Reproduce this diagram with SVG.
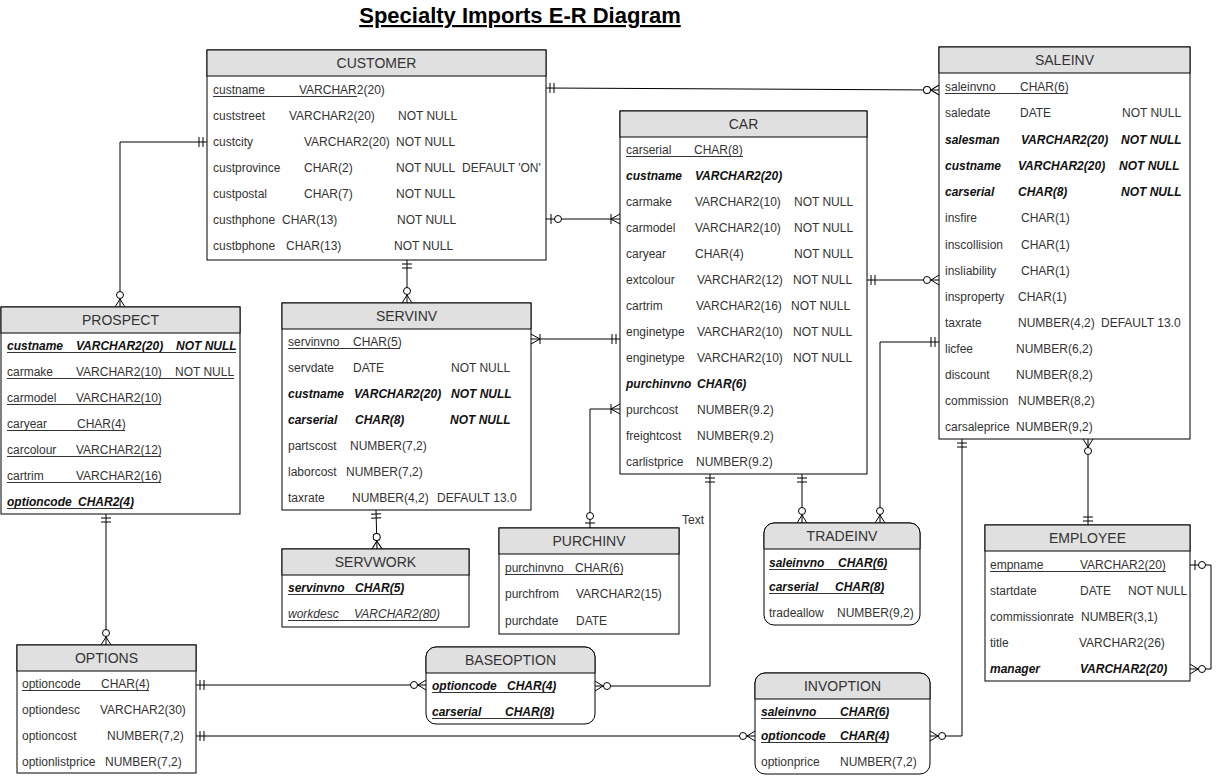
<svg xmlns="http://www.w3.org/2000/svg" width="1221" height="778" viewBox="0 0 1221 778">
<style>
.t{font-family:"Liberation Sans",Arial,sans-serif;font-size:12px;fill:#333}
.h{font-family:"Liberation Sans",Arial,sans-serif;font-size:14px;fill:#333;text-anchor:middle}
.bi{font-weight:bold;font-style:italic;fill:#111}
.i{font-style:italic}
.box{fill:#fff;stroke:#000;stroke-width:1}
.hd{fill:#e0e0e0;stroke:#000;stroke-width:1}
.ul{stroke:#333;stroke-width:1}
.c{fill:none;stroke:#000;stroke-width:1}
.title{font-family:"Liberation Sans",Arial,sans-serif;font-size:22px;font-weight:bold;fill:#000;text-anchor:middle;text-decoration:underline}
</style>
<defs>
<marker id="mOne" viewBox="-20 -10 22 20" refX="0" refY="0" markerWidth="22" markerHeight="20" markerUnits="userSpaceOnUse" orient="auto-start-reverse">
<path d="M-4,-5V5M-8,-5V5" fill="none" stroke="#000"/>
</marker>
<marker id="zOne" viewBox="-20 -10 22 20" refX="0" refY="0" markerWidth="22" markerHeight="20" markerUnits="userSpaceOnUse" orient="auto-start-reverse">
<path d="M-5,-5V5" fill="none" stroke="#000"/>
<circle cx="-12" cy="0" r="3.5" fill="#fff" stroke="#000"/>
</marker>
<marker id="oMany" viewBox="-20 -10 22 20" refX="0" refY="0" markerWidth="22" markerHeight="20" markerUnits="userSpaceOnUse" orient="auto-start-reverse">
<path d="M-9,-5V5M-9,0L0,-5M-9,0L0,5" fill="none" stroke="#000"/>
</marker>
<marker id="zMany" viewBox="-20 -10 22 20" refX="0" refY="0" markerWidth="22" markerHeight="20" markerUnits="userSpaceOnUse" orient="auto-start-reverse">
<path d="M-8,0L0,-5M-8,0L0,5" fill="none" stroke="#000"/>
<circle cx="-12" cy="0" r="3.5" fill="#fff" stroke="#000"/>
</marker>
</defs>
<rect width="1221" height="778" fill="#fff"/>
<text class="title" x="520" y="23">Specialty Imports E-R Diagram</text>

<g id="connectors">
<path class="c" d="M546,88 L939,90" marker-start="url(#mOne)" marker-end="url(#zMany)"/>
<path class="c" d="M207,142 H120 V307" marker-start="url(#mOne)" marker-end="url(#zMany)"/>
<path class="c" d="M546,219 H620" marker-start="url(#zOne)" marker-end="url(#oMany)"/>
<path class="c" d="M407,260 V303" marker-start="url(#mOne)" marker-end="url(#zMany)"/>
<path class="c" d="M531,339 H620" marker-start="url(#oMany)" marker-end="url(#mOne)"/>
<path class="c" d="M620,409 H590 V528" marker-start="url(#oMany)" marker-end="url(#zOne)"/>
<path class="c" d="M376,510 L377,549" marker-start="url(#mOne)" marker-end="url(#zMany)"/>
<path class="c" d="M710,474 V686 H595" marker-start="url(#mOne)" marker-end="url(#zMany)"/>
<path class="c" d="M802,474 V523" marker-start="url(#mOne)" marker-end="url(#zMany)"/>
<path class="c" d="M939,342 H880 V523" marker-start="url(#mOne)" marker-end="url(#zMany)"/>
<path class="c" d="M867,280 H939" marker-start="url(#mOne)" marker-end="url(#zMany)"/>
<path class="c" d="M962,439 V736 H930" marker-start="url(#mOne)" marker-end="url(#zMany)"/>
<path class="c" d="M1088,439 V525" marker-start="url(#zMany)" marker-end="url(#mOne)"/>
<path class="c" d="M1190,565 H1211 V669 H1190" marker-start="url(#zOne)" marker-end="url(#zMany)"/>
<path class="c" d="M106,514 V645" marker-start="url(#mOne)" marker-end="url(#zMany)"/>
<path class="c" d="M196,685 H426" marker-start="url(#mOne)" marker-end="url(#zMany)"/>
<path class="c" d="M196,736 H755" marker-start="url(#mOne)" marker-end="url(#zMany)"/>
</g>
<text class="t" x="682" y="524">Text</text>

<g id="customer">
<rect class="box" x="207" y="50" width="339" height="210"/>
<rect class="hd" x="207" y="50" width="339" height="26"/>
<text class="h" x="376.5" y="68">CUSTOMER</text>
<text class="t" y="94"><tspan x="213">custname</tspan><tspan x="299">VARCHAR2(20)</tspan></text>
<line class="ul" x1="213" y1="96.5" x2="357" y2="96.5"/>
<text class="t" y="120"><tspan x="213">custstreet</tspan><tspan x="289">VARCHAR2(20)</tspan><tspan x="398">NOT NULL</tspan></text>
<text class="t" y="146"><tspan x="213">custcity</tspan><tspan x="304">VARCHAR2(20)</tspan><tspan x="396">NOT NULL</tspan></text>
<text class="t" y="172"><tspan x="213">custprovince</tspan><tspan x="304">CHAR(2)</tspan><tspan x="396">NOT NULL</tspan><tspan x="462">DEFAULT 'ON'</tspan></text>
<text class="t" y="198"><tspan x="213">custpostal</tspan><tspan x="304">CHAR(7)</tspan><tspan x="396">NOT NULL</tspan></text>
<text class="t" y="224"><tspan x="213">custhphone</tspan><tspan x="282">CHAR(13)</tspan><tspan x="397">NOT NULL</tspan></text>
<text class="t" y="250"><tspan x="213">custbphone</tspan><tspan x="286">CHAR(13)</tspan><tspan x="394">NOT NULL</tspan></text>
</g>

<g id="saleinv">
<rect class="box" x="939" y="47" width="251" height="392"/>
<rect class="hd" x="939" y="47" width="251" height="26"/>
<text class="h" x="1064.5" y="65">SALEINV</text>
<text class="t" y="91"><tspan x="945">saleinvno</tspan><tspan x="1020">CHAR(6)</tspan></text>
<line class="ul" x1="945" y1="93.5" x2="1068" y2="93.5"/>
<text class="t" y="117"><tspan x="945">saledate</tspan><tspan x="1020">DATE</tspan><tspan x="1122">NOT NULL</tspan></text>
<text class="t bi" y="144"><tspan x="945">salesman</tspan><tspan x="1021">VARCHAR2(20)</tspan><tspan x="1121">NOT NULL</tspan></text>
<text class="t bi" y="170"><tspan x="945">custname</tspan><tspan x="1018">VARCHAR2(20)</tspan><tspan x="1119">NOT NULL</tspan></text>
<text class="t bi" y="196"><tspan x="945">carserial</tspan><tspan x="1018">CHAR(8)</tspan><tspan x="1121">NOT NULL</tspan></text>
<text class="t" y="222"><tspan x="945">insfire</tspan><tspan x="1021">CHAR(1)</tspan></text>
<text class="t" y="249"><tspan x="945">inscollision</tspan><tspan x="1021">CHAR(1)</tspan></text>
<text class="t" y="275"><tspan x="945">insliability</tspan><tspan x="1021">CHAR(1)</tspan></text>
<text class="t" y="301"><tspan x="945">insproperty</tspan><tspan x="1018">CHAR(1)</tspan></text>
<text class="t" y="327"><tspan x="945">taxrate</tspan><tspan x="1018">NUMBER(4,2)</tspan><tspan x="1101">DEFAULT 13.0</tspan></text>
<text class="t" y="353"><tspan x="945">licfee</tspan><tspan x="1016">NUMBER(6,2)</tspan></text>
<text class="t" y="379"><tspan x="945">discount</tspan><tspan x="1016">NUMBER(8,2)</tspan></text>
<text class="t" y="405"><tspan x="945">commission</tspan><tspan x="1018">NUMBER(8,2)</tspan></text>
<text class="t" y="431"><tspan x="945">carsaleprice</tspan><tspan x="1016">NUMBER(9,2)</tspan></text>
</g>

<g id="car">
<rect class="box" x="620" y="111" width="247" height="363"/>
<rect class="hd" x="620" y="111" width="247" height="26"/>
<text class="h" x="743.5" y="129">CAR</text>
<text class="t" y="154"><tspan x="626">carserial</tspan><tspan x="694">CHAR(8)</tspan></text>
<line class="ul" x1="626" y1="156.5" x2="743" y2="156.5"/>
<text class="t bi" y="180"><tspan x="626">custname</tspan><tspan x="695">VARCHAR2(20)</tspan></text>
<text class="t" y="206"><tspan x="626">carmake</tspan><tspan x="695">VARCHAR2(10)</tspan><tspan x="794">NOT NULL</tspan></text>
<text class="t" y="232"><tspan x="626">carmodel</tspan><tspan x="695">VARCHAR2(10)</tspan><tspan x="794">NOT NULL</tspan></text>
<text class="t" y="258"><tspan x="626">caryear</tspan><tspan x="695">CHAR(4)</tspan><tspan x="794">NOT NULL</tspan></text>
<text class="t" y="284"><tspan x="626">extcolour</tspan><tspan x="697">VARCHAR2(12)</tspan><tspan x="793">NOT NULL</tspan></text>
<text class="t" y="310"><tspan x="626">cartrim</tspan><tspan x="696">VARCHAR2(16)</tspan><tspan x="791">NOT NULL</tspan></text>
<text class="t" y="336"><tspan x="626">enginetype</tspan><tspan x="697">VARCHAR2(10)</tspan><tspan x="793">NOT NULL</tspan></text>
<text class="t" y="362"><tspan x="626">enginetype</tspan><tspan x="697">VARCHAR2(10)</tspan><tspan x="793">NOT NULL</tspan></text>
<text class="t bi" y="388"><tspan x="626">purchinvno</tspan><tspan x="697">CHAR(6)</tspan></text>
<text class="t" y="414"><tspan x="626">purchcost</tspan><tspan x="697">NUMBER(9.2)</tspan></text>
<text class="t" y="440"><tspan x="626">freightcost</tspan><tspan x="697">NUMBER(9.2)</tspan></text>
<text class="t" y="466"><tspan x="626">carlistprice</tspan><tspan x="696">NUMBER(9.2)</tspan></text>
</g>

<g id="prospect">
<rect class="box" x="1" y="307" width="239" height="207"/>
<rect class="hd" x="1" y="307" width="239" height="26"/>
<text class="h" x="120.5" y="325">PROSPECT</text>
<text class="t bi" y="350"><tspan x="7">custname</tspan><tspan x="76">VARCHAR2(20)</tspan><tspan x="176">NOT NULL</tspan></text>
<line class="ul" x1="7" y1="352.5" x2="236" y2="352.5"/>
<text class="t" y="376"><tspan x="7">carmake</tspan><tspan x="76">VARCHAR2(10)</tspan><tspan x="175">NOT NULL</tspan></text>
<line class="ul" x1="7" y1="378.5" x2="234" y2="378.5"/>
<text class="t" y="402"><tspan x="7">carmodel</tspan><tspan x="76">VARCHAR2(10)</tspan></text>
<line class="ul" x1="7" y1="404.5" x2="161" y2="404.5"/>
<text class="t" y="428"><tspan x="7">caryear</tspan><tspan x="77">CHAR(4)</tspan></text>
<line class="ul" x1="7" y1="430.5" x2="125" y2="430.5"/>
<text class="t" y="454"><tspan x="7">carcolour</tspan><tspan x="76">VARCHAR2(12)</tspan></text>
<line class="ul" x1="7" y1="456.5" x2="161" y2="456.5"/>
<text class="t" y="480"><tspan x="7">cartrim</tspan><tspan x="76">VARCHAR2(16)</tspan></text>
<line class="ul" x1="7" y1="482.5" x2="161" y2="482.5"/>
<text class="t bi" y="506"><tspan x="7">optioncode</tspan><tspan x="78">CHAR2(4)</tspan></text>
<line class="ul" x1="7" y1="508.5" x2="133" y2="508.5"/>
</g>

<g id="servinv">
<rect class="box" x="282" y="303" width="249" height="207"/>
<rect class="hd" x="282" y="303" width="249" height="26"/>
<text class="h" x="406.5" y="321">SERVINV</text>
<text class="t" y="346"><tspan x="288">servinvno</tspan><tspan x="353">CHAR(5)</tspan></text>
<line class="ul" x1="288" y1="348.5" x2="400" y2="348.5"/>
<text class="t" y="372"><tspan x="288">servdate</tspan><tspan x="353">DATE</tspan><tspan x="451">NOT NULL</tspan></text>
<text class="t bi" y="398"><tspan x="288">custname</tspan><tspan x="354">VARCHAR2(20)</tspan><tspan x="451">NOT NULL</tspan></text>
<text class="t bi" y="424"><tspan x="288">carserial</tspan><tspan x="355">CHAR(8)</tspan><tspan x="450">NOT NULL</tspan></text>
<text class="t" y="450"><tspan x="288">partscost</tspan><tspan x="350">NUMBER(7,2)</tspan></text>
<text class="t" y="476"><tspan x="288">laborcost</tspan><tspan x="346">NUMBER(7,2)</tspan></text>
<text class="t" y="502"><tspan x="288">taxrate</tspan><tspan x="352">NUMBER(4,2)</tspan><tspan x="437">DEFAULT 13.0</tspan></text>
</g>

<g id="servwork">
<rect class="box" x="282" y="549" width="187" height="78"/>
<rect class="hd" x="282" y="549" width="187" height="26"/>
<text class="h" x="375.5" y="567">SERVWORK</text>
<text class="t bi" y="592"><tspan x="288">servinvno</tspan><tspan x="355">CHAR(5)</tspan></text>
<line class="ul" x1="288" y1="594.5" x2="403" y2="594.5"/>
<text class="t i" y="618"><tspan x="288">workdesc</tspan><tspan x="354">VARCHAR2(80)</tspan></text>
<line class="ul" x1="288" y1="620.5" x2="437" y2="620.5"/>
</g>

<g id="purchinv">
<rect class="box" x="499" y="528" width="180" height="106"/>
<rect class="hd" x="499" y="528" width="180" height="26"/>
<text class="h" x="589" y="546">PURCHINV</text>
<text class="t" y="572"><tspan x="505">purchinvno</tspan><tspan x="575">CHAR(6)</tspan></text>
<line class="ul" x1="505" y1="574.5" x2="623" y2="574.5"/>
<text class="t" y="598"><tspan x="505">purchfrom</tspan><tspan x="576">VARCHAR2(15)</tspan></text>
<text class="t" y="625"><tspan x="505">purchdate</tspan><tspan x="576">DATE</tspan></text>
</g>

<g id="tradeinv">
<rect class="box" x="764" y="523" width="156" height="102" rx="10"/>
<path class="hd" d="M764,549 V533 A10,10 0 0 1 774,523 H910 A10,10 0 0 1 920,533 V549 Z"/>
<text class="h" x="842" y="541">TRADEINV</text>
<text class="t bi" y="567"><tspan x="769">saleinvno</tspan><tspan x="838">CHAR(6)</tspan></text>
<line class="ul" x1="769" y1="569.5" x2="887" y2="569.5"/>
<text class="t bi" y="591"><tspan x="769">carserial</tspan><tspan x="835">CHAR(8)</tspan></text>
<line class="ul" x1="769" y1="593.5" x2="884" y2="593.5"/>
<text class="t" y="617"><tspan x="769">tradeallow</tspan><tspan x="837">NUMBER(9,2)</tspan></text>
</g>

<g id="employee">
<rect class="box" x="985" y="525" width="205" height="156"/>
<rect class="hd" x="985" y="525" width="205" height="26"/>
<text class="h" x="1087.5" y="543">EMPLOYEE</text>
<text class="t" y="569"><tspan x="990">empname</tspan><tspan x="1080">VARCHAR2(20)</tspan></text>
<line class="ul" x1="990" y1="571.5" x2="1166" y2="571.5"/>
<text class="t" y="595"><tspan x="990">startdate</tspan><tspan x="1080">DATE</tspan><tspan x="1128">NOT NULL</tspan></text>
<text class="t" y="621"><tspan x="990">commissionrate</tspan><tspan x="1081">NUMBER(3,1)</tspan></text>
<text class="t" y="647"><tspan x="990">title</tspan><tspan x="1079">VARCHAR2(26)</tspan></text>
<text class="t bi" y="673"><tspan x="990">manager</tspan><tspan x="1080">VARCHAR2(20)</tspan></text>
</g>

<g id="options">
<rect class="box" x="17" y="645" width="179" height="128"/>
<rect class="hd" x="17" y="645" width="179" height="26"/>
<text class="h" x="106.5" y="663">OPTIONS</text>
<text class="t" y="688"><tspan x="22">optioncode</tspan><tspan x="101">CHAR(4)</tspan></text>
<line class="ul" x1="22" y1="690.5" x2="149" y2="690.5"/>
<text class="t" y="714"><tspan x="22">optiondesc</tspan><tspan x="100">VARCHAR2(30)</tspan></text>
<text class="t" y="740"><tspan x="22">optioncost</tspan><tspan x="107">NUMBER(7,2)</tspan></text>
<text class="t" y="766"><tspan x="22">optionlistprice</tspan><tspan x="105">NUMBER(7,2)</tspan></text>
</g>

<g id="baseoption">
<rect class="box" x="426" y="647" width="169" height="77" rx="10"/>
<path class="hd" d="M426,673 V657 A10,10 0 0 1 436,647 H585 A10,10 0 0 1 595,657 V673 Z"/>
<text class="h" x="510.5" y="665">BASEOPTION</text>
<text class="t bi" y="690"><tspan x="432">optioncode</tspan><tspan x="507">CHAR(4)</tspan></text>
<line class="ul" x1="432" y1="692.5" x2="555" y2="692.5"/>
<text class="t bi" y="716"><tspan x="432">carserial</tspan><tspan x="505">CHAR(8)</tspan></text>
<line class="ul" x1="432" y1="718.5" x2="553" y2="718.5"/>
</g>

<g id="invoption">
<rect class="box" x="755" y="673" width="175" height="101" rx="10"/>
<path class="hd" d="M755,699 V683 A10,10 0 0 1 765,673 H920 A10,10 0 0 1 930,683 V699 Z"/>
<text class="h" x="842.5" y="691">INVOPTION</text>
<text class="t bi" y="716"><tspan x="761">saleinvno</tspan><tspan x="840">CHAR(6)</tspan></text>
<line class="ul" x1="761" y1="718.5" x2="888" y2="718.5"/>
<text class="t bi" y="740"><tspan x="761">optioncode</tspan><tspan x="840">CHAR(4)</tspan></text>
<line class="ul" x1="761" y1="742.5" x2="888" y2="742.5"/>
<text class="t" y="766"><tspan x="761">optionprice</tspan><tspan x="840">NUMBER(7,2)</tspan></text>
</g>
</svg>
